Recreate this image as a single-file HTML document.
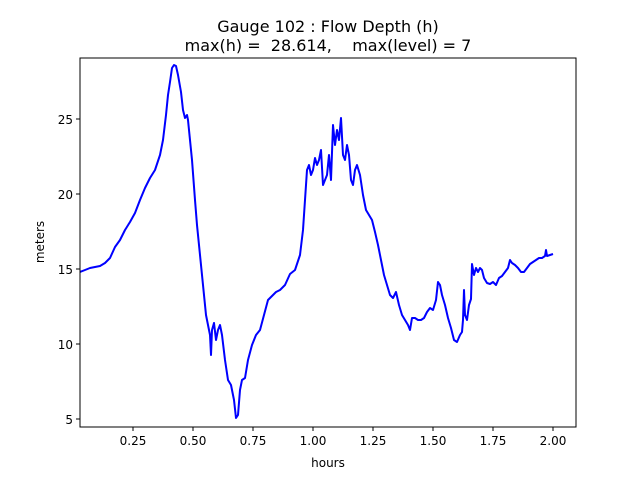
<!DOCTYPE html>
<html><head><style>body{margin:0;background:#fff}svg{display:block}text{font-family:"DejaVu Sans","Liberation Sans",sans-serif;fill:#000}</style></head>
<body>
<svg width="640" height="480" viewBox="0 0 640 480">
<rect width="640" height="480" fill="#fff"/>
<text x="328" y="32" font-size="16" text-anchor="middle">Gauge 102 : Flow Depth (h)</text>
<text x="328" y="51" font-size="16" text-anchor="middle" xml:space="preserve">max(h) =  28.614,    max(level) = 7</text>
<clipPath id="c"><rect x="80" y="58" width="496" height="369"/></clipPath>
<polyline clip-path="url(#c)" fill="none" stroke="#0000ff" stroke-width="2" stroke-linejoin="round" points="80,272 85,270 90,268 100,266 105,263 110,258 115,247 120,240 125,230 130,222 135,213 140,200 145,188 150,178 155,170 160,155 163,140 166,115 168,95 170,82 172,68 174,65 176,66 178,75 181,92 183,110 185,118 187,115 188,120 190,140 192,160 195,200 197,225 200,255 203,285 206,315 208,325 210,335 211,355 212,330 214,323 216,340 218,330 220,325 222,335 225,360 228,380 231,385 234,400 236,418 238,415 240,390 242,380 245,378 248,360 252,345 256,335 260,330 264,315 268,300 272,296 276,292 280,290 285,285 290,274 295,270 300,255 303,230 305,200 307,170 309,165 311,175 313,170 315,158 317,165 319,160 321,150 323,185 325,180 327,175 329,155 331,180 333,125 335,145 337,130 339,140 341,118 343,155 345,160 347,145 349,155 351,180 353,185 355,170 357,165 360,175 363,195 366,210 369,215 372,220 375,232 378,245 381,260 384,275 387,285 390,295 393,298 396,292 399,305 402,315 405,320 408,325 410,330 412,318 415,318 418,320 421,320 424,318 427,312 430,308 433,310 436,300 438,282 440,285 442,295 445,305 448,318 451,328 454,340 457,342 460,335 462,332 463,320 464,290 465,315 467,320 469,305 471,299 472,264 474,275 476,268 478,272 480,268 482,270 484,278 487,283 490,284 493,282 496,285 499,278 502,276 505,272 508,268 510,260 512,263 515,265 518,268 521,272 524,272 527,268 530,264 533,262 536,260 539,258 542,258 545,256 546,250 547,256 550,255 553,254"/>
<rect x="80" y="58" width="496" height="369" fill="none" stroke="#000" stroke-width="1"/>
<g stroke="#000" stroke-width="1">
<line x1="133" y1="427" x2="133" y2="431"/><line x1="193" y1="427" x2="193" y2="431"/><line x1="253" y1="427" x2="253" y2="431"/><line x1="313" y1="427" x2="313" y2="431"/><line x1="373" y1="427" x2="373" y2="431"/><line x1="433" y1="427" x2="433" y2="431"/><line x1="493" y1="427" x2="493" y2="431"/><line x1="553" y1="427" x2="553" y2="431"/>
<line x1="76" y1="119" x2="80" y2="119"/><line x1="76" y1="194" x2="80" y2="194"/><line x1="76" y1="269" x2="80" y2="269"/><line x1="76" y1="344" x2="80" y2="344"/><line x1="76" y1="419" x2="80" y2="419"/>
</g>
<g font-size="12" text-anchor="middle">
<text x="133" y="445">0.25</text><text x="193" y="445">0.50</text><text x="253" y="445">0.75</text><text x="313" y="445">1.00</text><text x="373" y="445">1.25</text><text x="433" y="445">1.50</text><text x="493" y="445">1.75</text><text x="553" y="445">2.00</text>
<text x="328" y="467">hours</text>
</g>
<g font-size="12" text-anchor="end">
<text x="73" y="124">25</text><text x="73" y="199">20</text><text x="73" y="274">15</text><text x="73" y="349">10</text><text x="73" y="424">5</text>
</g>
<text x="0" y="0" font-size="12" text-anchor="middle" transform="translate(44,242) rotate(-90)">meters</text>
</svg>
</body></html>
